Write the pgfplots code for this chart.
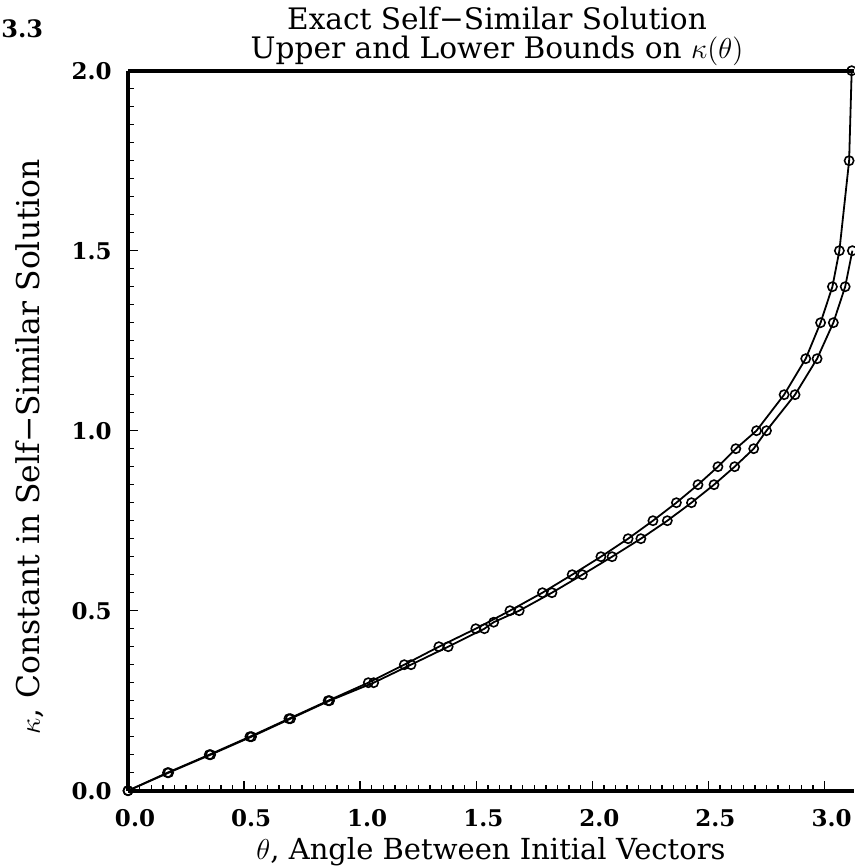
\documentclass[border=0pt]{standalone}
\usepackage{pgfplots}
\pgfplotsset{compat=1.18}
\usepackage{fontspec}
\setmainfont{DejaVu Serif}
\begin{document}
\begin{tikzpicture}
\begin{axis}[
  name=ax,
  scale only axis,
  width=363pt, height=360pt,
  xmin=0, xmax=3.127, ymin=0, ymax=2,
  axis lines=left,
  axis line style={-, line width=2pt},
  clip=false,
  xtick={0,0.5,1,1.5,2,2.5,3},
  ytick={0,0.5,1,1.5,2},
  minor x tick num=9,
  minor y tick num=9,
  tick align=inside,
  major tick length=5pt,
  minor tick length=3pt,
  every tick/.style={black, line width=0.7pt},
  /pgf/number format/assume math mode=true,
  /pgf/number format/.cd, fixed, fixed zerofill, precision=1, /pgfplots/.cd,
  ticklabel style={font=\fontsize{11.5}{13}\selectfont\bfseries},
  xticklabel style={inner sep=0pt, anchor=base, yshift=-18pt, xshift=3.5pt},
  yticklabel style={inner sep=0pt, anchor=east, xshift=-8pt},
]
\addplot[black, line width=0.9pt, mark=o, mark size=2.3pt, mark options={line width=0.8pt}] coordinates {
(0,0) (0.17,0.05) (0.35,0.10) (0.525,0.15) (0.693,0.20) (0.862,0.25)
(1.035,0.30) (1.19,0.35) (1.339,0.40) (1.498,0.45) (1.645,0.50)
(1.785,0.55) (1.913,0.60) (2.037,0.65) (2.154,0.70) (2.261,0.75)
(2.362,0.80) (2.455,0.85) (2.541,0.90) (2.618,0.95) (2.707,1.00)
(2.826,1.10) (2.919,1.20) (2.983,1.30) (3.034,1.40) (3.064,1.50)
(3.106,1.75) (3.117,2.00)
};
\addplot[black, line width=0.9pt, mark=o, mark size=2.3pt, mark options={line width=0.8pt}] coordinates {
(0,0) (0.175,0.05) (0.356,0.10) (0.532,0.15) (0.70,0.20) (0.868,0.25)
(1.058,0.30) (1.219,0.35) (1.379,0.40) (1.535,0.45) (1.575,0.468) (1.685,0.50)
(1.826,0.55) (1.957,0.60) (2.085,0.65) (2.209,0.70) (2.323,0.75)
(2.427,0.80) (2.524,0.85) (2.613,0.90) (2.695,0.95) (2.750,1.00)
(2.873,1.10) (2.968,1.20) (3.038,1.30) (3.089,1.40) (3.12,1.50)
};
\end{axis}
\draw[line width=2pt] (ax.north west) -- (ax.north east);
\node[anchor=base, inner sep=0pt, font=\fontsize{14.8}{16}\selectfont, xshift=3pt, yshift=20.5pt] at (ax.north) {Exact Self−Similar Solution};
\node[anchor=base, inner sep=0pt, font=\fontsize{14.8}{16}\selectfont, xshift=3pt, yshift=6.3pt] at (ax.north) {Upper and Lower Bounds on $\kappa(\theta)$};
\node[anchor=base west, inner sep=0pt, font=\fontsize{12}{13}\selectfont\bfseries] at ([shift={(-63.5pt,16.5pt)}]ax.north west) {3.3};
\node[anchor=base, inner sep=0pt, font=\fontsize{14.5}{15}\selectfont] at ([shift={(0pt,-34.6pt)}]ax.south) {$\theta$,\ Angle Between Initial Vectors};
\node[anchor=base, inner sep=0pt, rotate=90, font=\fontsize{15.7}{16}\selectfont] at ([shift={(-44pt,172pt)}]ax.south west) {$\kappa$,\ Constant in Self−Similar Solution};
\pgfresetboundingbox
\path[use as bounding box] ([shift={(-64pt,-38.65pt)}]ax.south west) rectangle ([shift={(0pt,35.35pt)}]ax.north east);
\end{tikzpicture}
\end{document}
